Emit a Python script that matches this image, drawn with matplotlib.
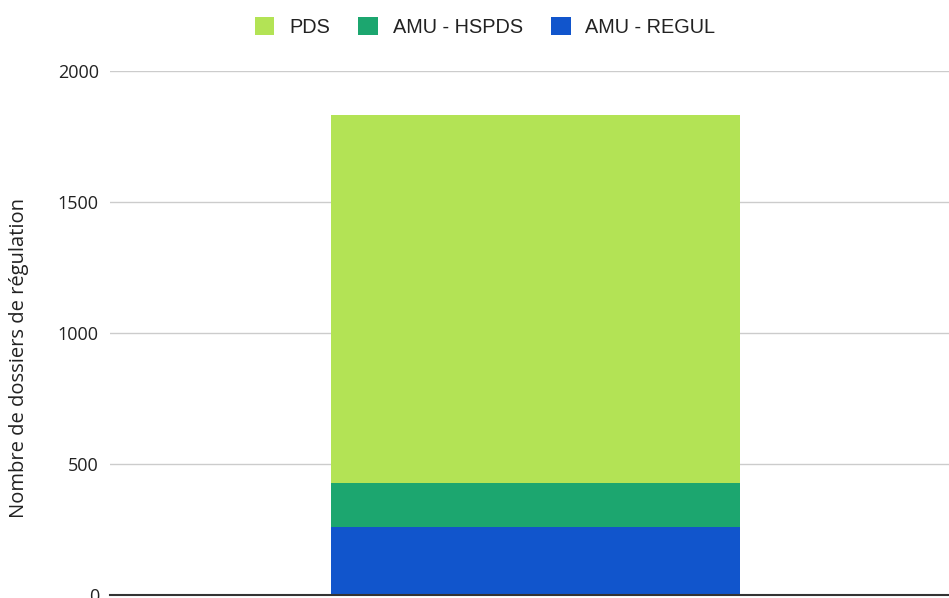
import matplotlib
matplotlib.use("Agg")
import matplotlib.pyplot as plt
from matplotlib.patches import Patch

categories = [""]
series_names = ["PDS", "AMU - HSPDS", "AMU - REGUL"]
regul = [260]
hspds = [168]
pds = [1404]
colors = {"PDS": "#b3e355", "AMU - HSPDS": "#1ca66f", "AMU - REGUL": "#1155cc"}
yticks = [0, 500, 1000, 1500, 2000]

fig = plt.figure(figsize=(9.49, 5.98), dpi=100)
ax = fig.add_axes([110/949, 3/598, 839/949, 524/598])

x = list(range(len(categories)))
ax.bar(x, regul, width=1.0, color=colors["AMU - REGUL"], zorder=3)
ax.bar(x, hspds, width=1.0, bottom=regul, color=colors["AMU - HSPDS"], zorder=3)
bottom2 = [a + b for a, b in zip(regul, hspds)]
ax.bar(x, pds, width=1.0, bottom=bottom2, color=colors["PDS"], zorder=3)

ax.set_xlim(-1.040, 1.011)
ax.set_ylim(0, 2000)
ax.set_yticks(yticks)
ax.set_yticklabels([str(t) for t in yticks], fontfamily="Open Sans", fontsize=13, color="#222222")
ax.set_xticks([])
ax.grid(axis="y", color="#cccccc", linewidth=1, zorder=0)
for s in ["top", "right", "left"]:
    ax.spines[s].set_visible(False)
ax.spines["bottom"].set_color("#333333")
ax.spines["bottom"].set_linewidth(1.5)
ax.spines["bottom"].set_zorder(4)
ax.tick_params(axis="y", length=0, pad=8)

ax.set_ylabel("Nombre de dossiers de régulation", fontfamily="Open Sans", fontsize=14.5, color="#222222")
ax.yaxis.set_label_coords(-0.096, 0.453)

handles = [Patch(facecolor=colors[n], edgecolor="none", label=n) for n in series_names]
leg = fig.legend(handles=handles, loc="center", bbox_to_anchor=(485/949, 1 - 27/598), ncol=3,
                 frameon=False, prop={"family": "Liberation Sans", "size": 14.3},
                 handlelength=1.0, handleheight=1.0, handletextpad=0.75, columnspacing=1.4)
for t in leg.get_texts():
    t.set_color("#222222")

fig.savefig("out.png", dpi=100)
